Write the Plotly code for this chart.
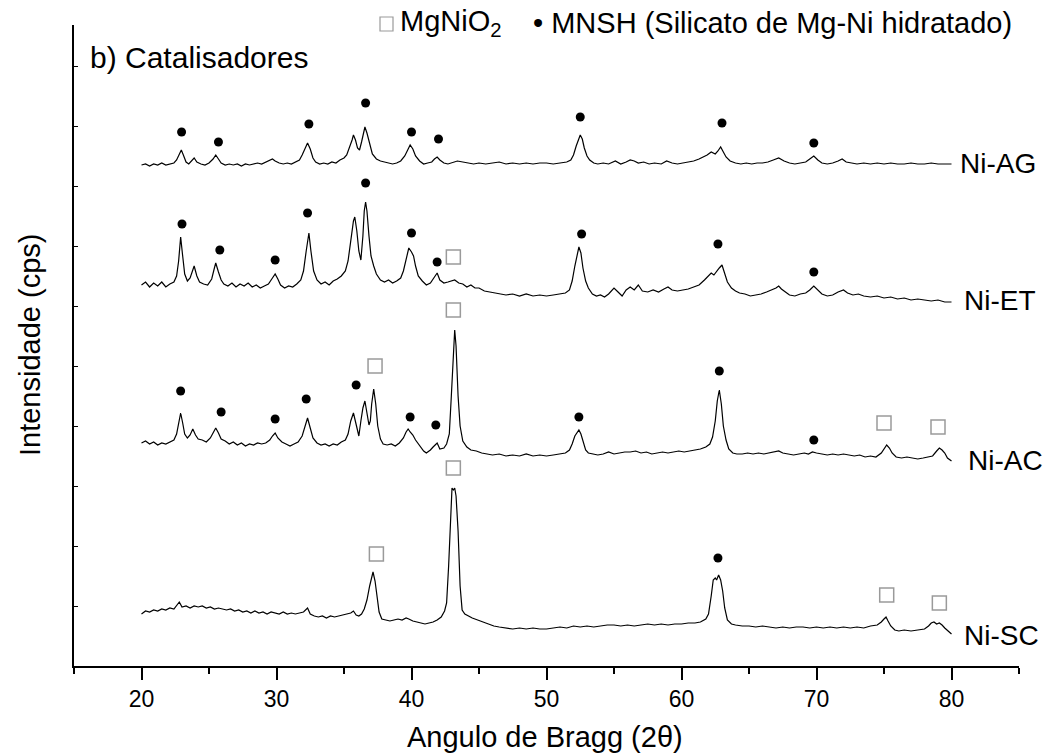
import plotly.graph_objects as go

# ---------------- data (intensity in arbitrary offset units) ----------------
ag_x = [20.0,20.3,20.6,20.9,21.2,21.5,21.8,22.1,22.4,22.6,22.8,22.95,23.1,23.3,23.5,23.7,23.9,24.1,24.4,24.7,
        25.0,25.3,25.5,25.7,25.9,26.2,26.5,26.8,27.1,27.4,27.7,28.0,28.3,28.6,28.9,29.2,29.5,29.7,29.9,30.2,
        30.5,30.8,31.1,31.4,31.7,31.9,32.1,32.3,32.5,32.7,32.9,33.2,33.5,33.8,34.1,34.4,34.7,35.0,35.2,35.4,
        35.6,35.7,35.85,36.0,36.15,36.3,36.45,36.55,36.7,36.9,37.1,37.4,37.7,38.0,38.3,38.6,38.9,39.2,39.5,39.7,
        39.9,40.1,40.3,40.6,40.9,41.2,41.5,41.7,41.9,42.1,42.4,42.7,43.0,43.4,43.8,44.2,44.6,45.0,45.5,46.0,
        46.5,47.0,47.5,48.0,48.5,49.0,49.5,50.0,50.5,51.0,51.5,51.8,52.0,52.2,52.4,52.5,52.65,52.8,53.0,53.2,
        53.5,53.8,54.2,54.6,55.1,55.5,55.9,56.2,56.5,56.8,57.2,57.6,58.0,58.5,58.9,59.3,59.7,60.1,60.5,60.9,
        61.3,61.6,61.9,62.2,62.5,62.7,62.9,63.1,63.3,63.6,64.0,64.4,64.8,65.2,65.6,66.0,66.4,66.8,67.2,67.6,
        68.0,68.4,68.8,69.2,69.5,69.8,70.1,70.4,70.8,71.2,71.6,71.9,72.2,72.6,73.0,73.5,74.0,74.5,75.0,75.5,
        76.0,76.5,77.0,77.5,78.0,78.5,79.0,79.5,80.0]
ag_y = [501,502,500,502,501,503,501,502,503,506,512,516,511,504,502,505,508,504,502,501,
        503,507,511,507,503,501,502,501,502,500,502,501,502,503,502,504,506,507,505,503,
        502,503,502,504,506,511,518,523,517,508,504,502,503,502,504,503,506,508,511,518,
        526,531,526,518,516,524,535,539,533,522,512,507,505,504,503,502,503,505,510,516,
        521,517,510,505,502,503,504,507,509,506,503,502,503,505,504,503,502,503,502,503,
        504,502,503,502,503,502,503,503,502,503,504,506,511,520,529,531,527,518,510,506,
        503,502,503,502,505,502,504,506,505,503,504,502,503,502,505,503,502,503,504,505,
        507,509,511,514,512,515,519,514,509,505,503,502,503,502,503,503,504,506,508,505,
        503,502,503,504,507,510,506,503,502,503,505,507,504,503,502,503,502,503,502,503,
        502,502,503,502,502,503,502,502,502]

et_x = [20.0,20.3,20.6,20.9,21.2,21.5,21.8,22.1,22.4,22.6,22.75,22.9,23.05,23.2,23.4,23.6,23.9,24.1,24.3,24.6,
        24.9,25.2,25.4,25.5,25.7,25.9,26.1,26.4,26.7,27.0,27.3,27.6,27.9,28.2,28.5,28.8,29.1,29.4,29.7,29.9,
        30.1,30.3,30.6,30.9,31.2,31.5,31.8,32.0,32.2,32.4,32.55,32.75,33.0,33.3,33.6,33.9,34.2,34.5,34.8,35.1,
        35.3,35.5,35.7,35.8,35.95,36.1,36.25,36.4,36.5,36.6,36.7,36.85,37.0,37.2,37.4,37.7,38.0,38.3,38.6,38.9,
        39.2,39.4,39.6,39.8,40.0,40.15,40.3,40.5,40.8,41.1,41.4,41.6,41.9,42.1,42.4,42.7,43.0,43.2,43.5,43.8,
        44.1,44.4,44.7,45.0,45.4,45.8,46.2,46.6,47.0,47.5,48.0,48.5,49.0,49.5,50.0,50.5,51.0,51.4,51.7,51.9,
        52.1,52.3,52.4,52.55,52.7,52.9,53.1,53.4,53.7,54.0,54.3,54.6,55.0,55.3,55.6,55.9,56.2,56.5,56.8,57.1,
        57.5,57.9,58.3,58.7,59.0,59.3,59.7,60.1,60.5,60.9,61.3,61.7,62.0,62.2,62.4,62.6,62.8,63.0,63.2,63.4,
        63.7,64.0,64.3,64.7,65.1,65.5,65.9,66.3,66.7,67.0,67.2,67.4,67.7,68.0,68.4,68.8,69.2,69.5,69.8,70.1,
        70.4,70.8,71.2,71.6,72.0,72.3,72.7,73.1,73.5,74.0,74.5,75.0,75.5,76.0,76.5,77.0,77.5,78.0,78.5,79.0,
        79.5,80.0]
et_y = [381,384,379,383,380,384,379,382,384,390,405,429,410,392,385,388,400,390,384,382,
        381,387,398,403,394,386,382,380,383,379,382,380,383,379,381,378,380,382,388,392,
        387,381,378,380,379,382,386,395,415,433,415,395,386,382,384,381,385,387,390,395,
        405,425,445,449,435,415,406,430,455,464,455,430,410,400,392,386,384,386,383,385,
        388,395,408,418,414,410,400,390,385,381,383,387,393,386,383,384,385,386,383,382,
        379,381,378,378,375,374,373,372,371,372,370,372,370,371,370,371,372,373,376,385,
        400,415,419,413,398,385,378,372,370,371,369,372,378,374,370,376,379,376,381,375,
        374,376,374,377,379,376,375,376,377,379,381,386,390,393,391,395,398,401,392,384,
        378,375,373,372,370,371,372,374,376,378,380,377,374,371,370,372,373,376,380,376,
        372,370,371,374,376,373,371,372,370,369,370,368,369,367,368,366,367,366,365,366,
        364,364]

ac_x = [20.0,20.3,20.6,20.9,21.2,21.5,21.8,22.1,22.4,22.6,22.75,22.9,23.05,23.2,23.4,23.6,23.8,24.0,24.2,24.5,
        24.8,25.1,25.3,25.5,25.7,25.9,26.2,26.5,26.8,27.1,27.4,27.7,28.0,28.3,28.6,28.9,29.2,29.5,29.7,29.9,
        30.1,30.4,30.7,31.0,31.3,31.6,31.9,32.1,32.3,32.5,32.7,33.0,33.3,33.6,33.9,34.2,34.5,34.8,35.1,35.3,
        35.5,35.7,35.85,36.0,36.1,36.25,36.4,36.55,36.7,36.85,36.95,37.05,37.2,37.35,37.5,37.7,37.9,38.2,38.5,38.8,
        39.1,39.4,39.6,39.75,39.9,40.1,40.3,40.6,40.9,41.1,41.4,41.6,41.9,42.1,42.4,42.6,42.8,42.95,43.1,43.2,
        43.3,43.45,43.6,43.8,44.1,44.4,44.8,45.2,45.6,46.0,46.5,47.0,47.5,48.0,48.5,49.0,49.5,50.0,50.5,51.0,
        51.4,51.7,51.9,52.1,52.3,52.4,52.55,52.7,52.9,53.1,53.4,53.8,54.2,54.6,55.0,55.4,55.8,56.2,56.6,57.0,
        57.4,57.8,58.2,58.6,59.0,59.4,59.8,60.2,60.6,61.0,61.4,61.8,62.1,62.3,62.5,62.65,62.8,62.95,63.1,63.3,
        63.5,63.8,64.1,64.5,64.9,65.3,65.7,66.1,66.5,66.9,67.2,67.5,67.9,68.3,68.7,69.1,69.4,69.7,70.0,70.4,
        70.8,71.2,71.6,72.0,72.4,72.8,73.2,73.6,74.0,74.4,74.8,75.0,75.2,75.4,75.6,75.9,76.3,76.7,77.1,77.5,
        77.9,78.3,78.6,78.9,79.1,79.3,79.5,79.7,80.0]
ac_y = [223,225,222,224,221,223,222,224,226,232,242,253,243,232,228,231,237,231,227,226,
        224,228,233,238,233,227,225,222,224,221,223,220,222,221,223,222,223,226,230,233,
        228,224,222,220,222,224,230,240,248,238,228,223,221,222,220,222,221,224,226,232,
        245,253,243,234,230,245,258,265,252,241,245,262,277,262,240,227,222,221,222,220,
        223,228,234,237,234,231,226,220,215,213,216,219,223,217,218,222,232,270,320,336,
        320,270,240,225,219,216,215,213,212,211,212,210,211,210,212,210,211,210,211,212,
        213,216,222,230,235,236,232,224,216,213,212,211,212,214,212,213,214,214,215,213,
        214,212,213,214,213,214,215,214,215,216,217,219,222,229,245,265,276,262,240,226,
        217,213,212,212,213,212,213,212,213,214,215,213,212,211,212,213,212,214,213,212,
        211,212,211,212,211,210,211,209,210,209,213,217,221,218,213,209,208,209,208,207,
        208,209,210,215,218,216,213,208,205]

sc_x = [20.0,20.3,20.6,20.9,21.2,21.5,21.8,22.1,22.4,22.6,22.8,23.0,23.3,23.6,23.9,24.2,24.5,24.8,25.1,25.4,
        25.7,26.0,26.3,26.6,26.9,27.2,27.5,27.8,28.1,28.4,28.7,29.0,29.3,29.6,29.9,30.2,30.5,30.8,31.1,31.4,
        31.7,32.0,32.3,32.5,32.8,33.1,33.4,33.7,34.0,34.3,34.6,34.9,35.2,35.5,35.7,35.9,36.1,36.3,36.5,36.7,
        36.9,37.05,37.15,37.3,37.45,37.6,37.8,38.1,38.4,38.7,39.0,39.3,39.6,39.8,40.1,40.4,40.7,41.0,41.3,41.6,
        41.9,42.2,42.45,42.6,42.75,42.9,43.0,43.1,43.2,43.3,43.45,43.6,43.75,43.95,44.2,44.5,44.9,45.3,45.7,46.1,
        46.5,47.0,47.5,48.0,48.5,49.0,49.5,50.0,50.5,51.0,51.5,52.0,52.5,53.0,53.5,54.0,54.5,55.0,55.5,56.0,
        56.5,57.0,57.5,58.0,58.5,59.0,59.5,60.0,60.5,61.0,61.4,61.8,62.0,62.2,62.35,62.5,62.6,62.75,62.9,63.05,
        63.2,63.4,63.7,64.0,64.5,65.0,65.5,66.0,66.5,67.0,67.5,68.0,68.5,69.0,69.5,70.0,70.5,71.0,71.5,72.0,
        72.5,73.0,73.5,74.0,74.5,74.8,75.0,75.15,75.3,75.5,75.8,76.1,76.5,77.0,77.5,78.0,78.3,78.5,78.7,78.9,
        79.1,79.3,79.5,79.8,80.0]
sc_y = [52,55,54,56,55,57,56,58,57,60,64,59,60,58,60,59,60,58,59,57,
        58,57,56,57,55,56,54,55,53,55,53,54,52,54,53,52,54,52,53,52,
        53,54,58,52,50,49,50,48,50,49,50,51,52,53,55,51,50,52,57,66,
        80,90,94,85,68,54,47,46,45,46,47,46,48,47,45,44,43,42,43,44,
        46,49,55,63,100,160,178,176,178,170,135,80,56,52,50,48,46,44,42,40,
        39,38,37,38,37,38,37,37,38,39,38,40,39,40,39,40,41,41,40,41,
        40,41,42,41,42,41,42,42,43,43,44,47,52,70,86,88,86,91,86,75,
        58,46,42,41,40,40,39,40,39,38,39,38,39,39,38,39,38,39,38,39,
        38,39,38,40,41,44,47,49,45,40,36,35,36,35,36,37,40,43,44,42,
        43,41,38,34,32]

# phase markers
mnsh_x = [22.97,25.7,32.4,36.6,40.0,42.0,52.5,63.0,69.8,
          23.0,25.8,29.9,32.3,36.6,40.0,41.9,52.6,62.7,69.8,
          22.9,25.9,29.9,32.2,35.9,39.9,41.8,52.4,62.8,69.8,
          62.7]
mnsh_y = [534,524,542,563,534,527,549,543,523,
          442,416,406,453,483,433,404,432,422,394,
          275,254,247,267,281,249,241,249,295,226,
          108]
mgnio_x = [43.1, 37.3,43.1,75.0,79.0, 37.4,43.1,75.2,79.1]
mgnio_y = [409, 300,356,243,239, 112,198,71,63]

sample_names = ["Ni-AG", "Ni-ET", "Ni-AC", "Ni-SC"]
name_x = [80.45, 80.8, 81.1, 80.8]
name_y = [503, 366, 206, 31]

x_ticks = [20, 30, 40, 50, 60, 70, 80]
x_minor = [15, 25, 35, 45, 55, 65, 75, 85]
y_ticks = [0, 60, 120, 180, 240, 300, 360, 420, 480, 540, 600]

# ---------------- figure ----------------
FONT = "Liberation Sans, Arial, sans-serif"
fig = go.Figure()
for xs, ys in [(ag_x, ag_y), (et_x, et_y), (ac_x, ac_y), (sc_x, sc_y)]:
    fig.add_trace(go.Scatter(x=xs, y=ys, mode="lines",
                             line=dict(color="black", width=1.2), showlegend=False,
                             hoverinfo="skip"))

fig.add_trace(go.Scatter(x=mnsh_x, y=mnsh_y, mode="markers",
                         marker=dict(symbol="circle", size=9, color="black"),
                         showlegend=False, cliponaxis=False))
fig.add_trace(go.Scatter(x=mgnio_x, y=mgnio_y, mode="markers",
                         marker=dict(symbol="square-open", size=14, color="#9a9a9a",
                                     line=dict(width=1.5, color="#9a9a9a")),
                         showlegend=False, cliponaxis=False))

for nm, nx, ny in zip(sample_names, name_x, name_y):
    fig.add_annotation(x=nx, y=ny, text=nm, showarrow=False, xanchor="left", yanchor="middle",
                       font=dict(size=28, color="black", family=FONT))

L, R, T, B = 74, 28, 25, 87
W, H = 1047, 753
pw, ph = W - L - R, H - T - B

def px(x):
    return (x - L) / pw

def py(y):
    return (H - B - y) / ph

fig.add_annotation(xref="paper", yref="paper", x=px(88), y=py(57), text="b) Catalisadores",
                   showarrow=False, xanchor="left", yanchor="middle",
                   font=dict(size=30, color="black", family=FONT))
fig.add_shape(type="rect", xref="paper", yref="paper", x0=px(380), x1=px(393), y0=py(31), y1=py(17),
              line=dict(color="#9a9a9a", width=1.2), fillcolor="rgba(0,0,0,0)")
fig.add_annotation(xref="paper", yref="paper", x=px(398), y=py(23), text="MgNiO<sub>2</sub>",
                   showarrow=False, xanchor="left", yanchor="middle",
                   font=dict(size=29, color="black", family=FONT))
fig.add_annotation(xref="paper", yref="paper", x=px(531), y=py(23),
                   text="• MNSH (Silicato de Mg-Ni hidratado)",
                   showarrow=False, xanchor="left", yanchor="middle",
                   font=dict(size=29, color="black", family=FONT))
fig.add_annotation(xref="paper", yref="paper", x=px(545), y=py(737), text="Angulo de Bragg (2θ)",
                   showarrow=False, xanchor="center", yanchor="middle",
                   font=dict(size=29, color="black", family=FONT))
fig.add_annotation(xref="paper", yref="paper", x=px(30), y=py(345), text="Intensidade (cps)",
                   showarrow=False, xanchor="center", yanchor="middle", textangle=-90,
                   font=dict(size=29, color="black", family=FONT))

fig.update_xaxes(range=[15, 85], tickvals=x_ticks, ticks="outside", ticklen=12, tickwidth=1.5,
                 tickcolor="black", showline=True, linecolor="black", linewidth=1.5,
                 showgrid=False, zeroline=False, mirror=False,
                 tickfont=dict(size=23, color="black", family=FONT),
                 minor=dict(tickvals=x_minor, ticks="outside", ticklen=6, tickwidth=1.5,
                            tickcolor="black", showgrid=False))
fig.update_yaxes(range=[0, ph], tickvals=y_ticks, ticks="inside", ticklen=4, tickwidth=1.2,
                 tickcolor="black", showticklabels=False, showline=True, linecolor="black",
                 linewidth=1.5, showgrid=False, zeroline=False, mirror=False)

fig.update_layout(width=W, height=H, margin=dict(l=L, r=R, t=T, b=B),
                  plot_bgcolor="white", paper_bgcolor="white",
                  font=dict(family=FONT, color="black"))

fig.write_html("out.html")
